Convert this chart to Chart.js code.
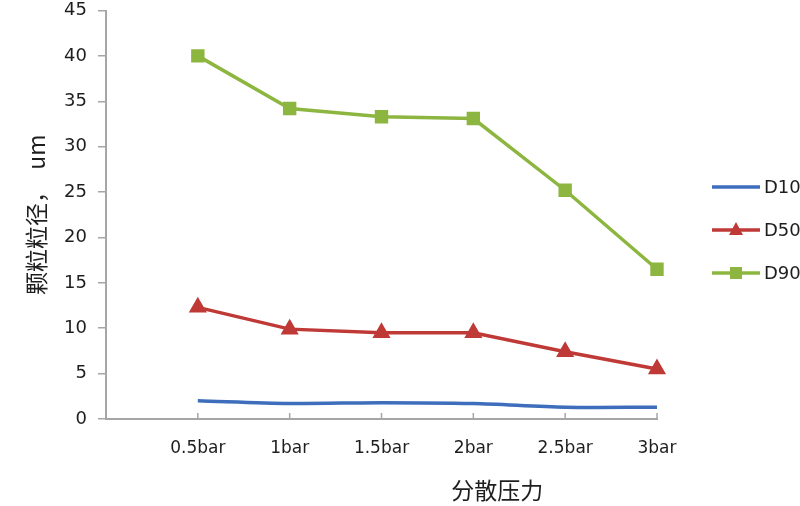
<!DOCTYPE html>
<html>
<head>
<meta charset="utf-8">
<script src="https://cdn.jsdelivr.net/npm/chart.js@4/dist/chart.umd.min.js"></script>
<style>
html,body{margin:0;padding:0;background:#fff;}
#wrap{width:800px;height:506px;position:relative;}
</style>
</head>
<body>
<div id="wrap"><canvas id="c" width="800" height="506"></canvas></div>
<script>
const categories = ['', '0.5bar', '1bar', '1.5bar', '2bar', '2.5bar', '3bar'];
const seriesNames = ['D10', 'D50', 'D90'];
const d10 = [null, 2.0, 1.7, 1.8, 1.7, 1.3, 1.3];
const d50 = [null, 12.3, 9.9, 9.5, 9.5, 7.4, 5.5];
const d90 = [null, 40.0, 34.2, 33.3, 33.1, 25.2, 16.5];
const yTicks = [0, 5, 10, 15, 20, 25, 30, 35, 40, 45];
const xTitle = '分散压力';
const yTitle = '颗粒粒径，  um';

const colors = ['#3D6DBB', '#BF3A36', '#8DB640'];
const styles = [false, 'triangle', 'rect'];
const AXIS = '#A6A6A6';
const TXT = '#1e1e1e';

const extras = {
  id: 'extras',
  afterDraw(chart) {
    const ctx = chart.ctx;
    const ca = chart.chartArea;
    const xs = chart.scales.x;
    ctx.save();
    ctx.strokeStyle = AXIS;
    ctx.lineWidth = 1.5;
    for (let i = 1; i < categories.length; i++) {
      const px = xs.getPixelForValue(i);
      ctx.beginPath();
      ctx.moveTo(px, ca.bottom);
      ctx.lineTo(px, ca.bottom - 6);
      ctx.stroke();
    }
    ctx.fillStyle = TXT;
    ctx.font = '23px "Noto Sans CJK SC"';
    ctx.textAlign = 'center';
    ctx.textBaseline = 'middle';
    ctx.fillText(xTitle, ca.left + (ca.right - ca.left) * 0.71, ca.bottom + 71);
    chart.data.datasets.forEach((ds, i) => {
      const y = 187 + i * 43;
      const x0 = ca.right + 55, x1 = ca.right + 103;
      ctx.strokeStyle = ds.borderColor;
      ctx.lineWidth = 3.5;
      ctx.beginPath();
      ctx.moveTo(x0, y);
      ctx.lineTo(x1, y);
      ctx.stroke();
      if (ds.pointStyle) {
        ctx.fillStyle = ds.borderColor;
        if (ds.pointStyle === 'rect') {
          ctx.fillRect((x0 + x1) / 2 - 6, y - 6, 12, 12);
        } else {
          ctx.beginPath();
          const cx = (x0 + x1) / 2;
          ctx.moveTo(cx, y - 8);
          ctx.lineTo(cx + 7, y + 5);
          ctx.lineTo(cx - 7, y + 5);
          ctx.closePath();
          ctx.fill();
        }
      }
      ctx.fillStyle = TXT;
      ctx.font = '18px "DejaVu Sans"';
      ctx.textAlign = 'left';
      ctx.textBaseline = 'middle';
      ctx.fillText(ds.label, x1 + 4, y + 1);
    });
    ctx.restore();
  }
};

const seriesData = [d10, d50, d90];
new Chart(document.getElementById('c'), {
  type: 'line',
  data: {
    labels: categories,
    datasets: seriesNames.map((n, i) => ({
      label: n,
      data: seriesData[i],
      borderColor: colors[i],
      backgroundColor: colors[i],
      borderWidth: 3.5,
      pointStyle: styles[i],
      pointRadius: styles[i] ? 7 : 0,
      pointHoverRadius: styles[i] ? 7 : 0,
      tension: i === 0 ? 0.3 : 0,
      spanGaps: false
    }))
  },
  options: {
    responsive: false,
    animation: false,
    devicePixelRatio: 1,
    layout: { padding: { left: 0, right: 143, top: 10, bottom: 0 } },
    plugins: { legend: { display: false }, tooltip: { enabled: false } },
    scales: {
      x: {
        offset: false,
        grid: { display: false, drawTicks: false },
        border: { display: true, color: AXIS, width: 2 },
        ticks: { color: TXT, font: { family: 'DejaVu Sans', size: 17 }, padding: 19, maxRotation: 0, autoSkip: false },
        afterFit(s) { s.height = 87; s.paddingLeft = 0; s.paddingRight = 0; }
      },
      y: {
        min: 0, max: 45,
        afterBuildTicks(s) { s.ticks = yTicks.map(v => ({ value: v })); },
        grid: { drawOnChartArea: false, drawTicks: true, tickLength: 8, color: AXIS, lineWidth: 1.5 },
        border: { display: true, color: AXIS, width: 2 },
        ticks: { color: TXT, font: { family: 'DejaVu Sans', size: 18 }, padding: 11 },
        title: { display: true, text: yTitle, color: TXT, font: { family: 'Noto Sans CJK SC', size: 23 }, padding: { top: 22, bottom: 0 } },
        afterFit(s) { s.width = 106; s.paddingTop = 0; s.paddingBottom = 0; }
      }
    }
  },
  plugins: [extras]
});
</script>
</body>
</html>
